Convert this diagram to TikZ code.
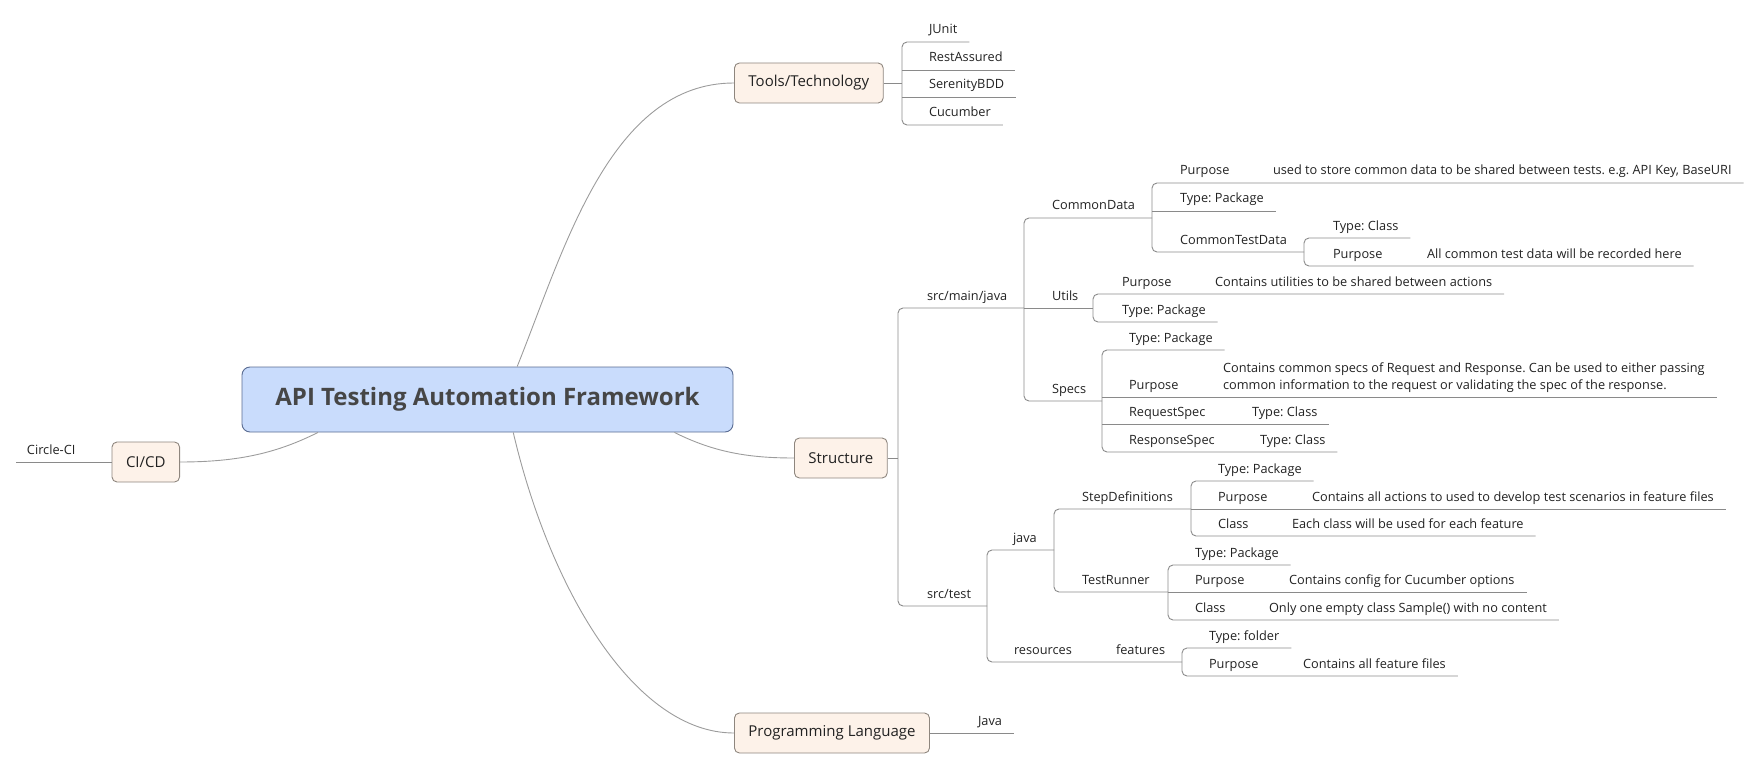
\documentclass[tikz,border=0pt]{standalone}
\usepackage{fontspec}
\setmainfont{Open Sans}
\usetikzlibrary{positioning}
\frenchspacing

\definecolor{rootfill}{HTML}{C9DCFC}
\definecolor{rootdraw}{HTML}{5A6C92}
\definecolor{roottext}{HTML}{464646}
\definecolor{mainfill}{HTML}{FDF2E9}
\definecolor{maindraw}{HTML}{8E867E}
\definecolor{linkgray}{HTML}{8A8A8A}
\definecolor{txt}{HTML}{222222}

\newcommand{\leaffont}{\fontsize{12.75}{17}\selectfont}

\begin{document}
\begin{tikzpicture}[
  x=1pt, y=-1pt,
  root/.style={rectangle, rounded corners=8pt, draw=rootdraw, fill=rootfill, line width=0.9pt, minimum width=491pt, minimum height=65pt, text=roottext, font=\fontsize{24}{28}\selectfont\bfseries},
  topic/.style={rectangle, rounded corners=5pt, draw=maindraw, fill=mainfill, line width=0.9pt, inner xsep=14pt, minimum height=40pt, text=txt, font=\fontsize{15}{18}\selectfont},
  leaf/.style={anchor=south west, inner sep=0pt, outer xsep=0pt, outer ysep=8pt, text height=8pt, text depth=0pt, text=txt, font=\leaffont},
  link/.style={draw=linkgray, line width=0.9pt},
  curve/.style={draw=linkgray!85, line width=0.9pt}
]
  \useasboundingbox (0,0) rectangle (1761,770);

  \node[root] (root) at (487.5,399.5) {API Testing Automation Framework};
  \node[topic, anchor=west] (tools) at (734,83) {Tools/Technology};
  \node[topic, anchor=west] (structure) at (794,458) {Structure};
  \node[topic, anchor=west] (prog) at (734,733) {Programming Language};
  \node[topic, anchor=east] (cicd) at (180,462) {CI/CD};

  \draw[curve] (root.48) .. controls +(47,-117) and +(-124,0) .. (tools.west);
  \draw[curve] (root.-52) .. controls +(37,158) and +(-99,0) .. (prog.west);
  \draw[curve] (root.-10.5) .. controls +(40,20) and +(-45,0) .. (structure.west);
  \draw[curve] (root.191.4) .. controls +(-40,20) and +(60,0) .. (cicd.east);

  % CI/CD
  \node[leaf] (circleci) at (27,462) {Circle-CI};
  \draw[link] (cicd.west) -- ([xshift=-11pt]circleci.south west);

  % Tools/Technology
  \coordinate (toolsbr) at (902,83);
  \node[leaf] (junit) at (929,42) {JUnit};
  \node[leaf] (restassured) at (929,70) {RestAssured};
  \node[leaf] (serenity) at (929,97) {SerenityBDD};
  \node[leaf] (cucumber) at (929,125) {Cucumber};
  \draw[link] (tools.east) -- (toolsbr);
  \draw[link, rounded corners=5pt] ([xshift=12pt]junit.south east) -- (junit.south west -| toolsbr) -- (cucumber.south west -| toolsbr) -- ([xshift=12pt]cucumber.south east);
  \draw[link] (restassured.south west -| toolsbr) -- ([xshift=12pt]restassured.south east);
  \draw[link] (serenity.south west -| toolsbr) -- ([xshift=12pt]serenity.south east);

  % Programming Language
  \node[leaf] (javalang) at (978,733) {Java};
  \draw[link] (prog.east) -- ([xshift=12pt]javalang.south east);

  % Structure
  \coordinate (structbr) at (898,458);
  \coordinate (mainbr) at (1024,308);
  \coordinate (testbr) at (987,606);
  \node[leaf] (srcmain) at (927,308) {src/main/java};
  \node[leaf] (srctest) at (927,606) {src/test};
  \draw[link] (structure.east) -- (structbr);
  \draw[link, rounded corners=5pt] (srcmain.south west -| mainbr) -- (srcmain.south west -| structbr) -- (srctest.south west -| structbr) -- (srctest.south west -| testbr);

  % src/main/java
  \coordinate (cdbr) at (1152,218);
  \coordinate (utilsbr) at (1093,308);
  \coordinate (specsbr) at (1102,401);
  \node[leaf] (commondata) at (1052,218) {CommonData};
  \node[leaf] (utils) at (1052,308) {Utils};
  \node[leaf] (specs) at (1052,401) {Specs};
  \draw[link, rounded corners=5pt] (commondata.south west -| cdbr) -- (commondata.south west -| mainbr) -- (specs.south west -| mainbr) -- (specs.south west -| specsbr);
  \draw[link] (utils.south west -| mainbr) -- (utils.south west -| utilsbr);

  % CommonData
  \coordinate (ctbr) at (1304,252);
  \node[leaf] (cdpurp) at (1180,183) {Purpose};
  \node[leaf] (cdpurpd) at (1273,183) {used to store common data to be shared between tests. e.g. API Key, BaseURI};
  \node[leaf] (cdtype) at (1180,211) {Type: Package};
  \node[leaf] (cdtest) at (1180,252) {CommonTestData};
  \draw[link, rounded corners=5pt] ([xshift=12pt]cdpurpd.south east) -- (cdpurp.south west -| cdbr) -- (cdtest.south west -| cdbr) -- (cdtest.south west -| ctbr);
  \draw[link] (cdtype.south west -| cdbr) -- ([xshift=12pt]cdtype.south east);

  \node[leaf] (ctclass) at (1333,238) {Type: Class};
  \node[leaf] (ctpurp) at (1333,266) {Purpose};
  \node[leaf] (ctpurpd) at (1427,266) {All common test data will be recorded here};
  \draw[link, rounded corners=5pt] ([xshift=12pt]ctclass.south east) -- (ctclass.south west -| ctbr) -- (ctpurp.south west -| ctbr) -- ([xshift=12pt]ctpurpd.south east);

  % Utils
  \node[leaf] (upurp) at (1122,294) {Purpose};
  \node[leaf] (upurpd) at (1215,294) {Contains utilities to be shared between actions};
  \node[leaf] (utype) at (1122,322) {Type: Package};
  \draw[link, rounded corners=5pt] ([xshift=12pt]upurpd.south east) -- (upurp.south west -| utilsbr) -- (utype.south west -| utilsbr) -- ([xshift=12pt]utype.south east);

  % Specs
  \node[leaf] (stype) at (1129,350) {Type: Package};
  \node[leaf] (spurp) at (1129,397) {Purpose};
  \node[leaf] (spurpd) at (1223,397) {\begin{tabular}[b]{@{}l@{}}Contains common specs of Request and Response. Can be used to either passing\\common information to the request or validating the spec of the response.\end{tabular}};
  \node[leaf] (sreq) at (1129,424) {RequestSpec};
  \node[leaf] (sreqd) at (1252,424) {Type: Class};
  \node[leaf] (sresp) at (1129,452) {ResponseSpec};
  \node[leaf] (srespd) at (1260,452) {Type: Class};
  \draw[link, rounded corners=5pt] ([xshift=12pt]stype.south east) -- (stype.south west -| specsbr) -- (sresp.south west -| specsbr) -- ([xshift=12pt]srespd.south east);
  \draw[link] (spurp.south west -| specsbr) -- ([xshift=12pt]spurpd.south east);
  \draw[link] (sreq.south west -| specsbr) -- ([xshift=12pt]sreqd.south east);

  % src/test
  \coordinate (javabr) at (1054,550);
  \coordinate (featbr) at (1182,662);
  \node[leaf] (java) at (1013,550) {java};
  \node[leaf] (resources) at (1014,662) {resources};
  \node[leaf] (features) at (1116,662) {features};
  \draw[link, rounded corners=5pt] (java.south west -| javabr) -- (java.south west -| testbr) -- (resources.south west -| testbr) -- (resources.south west -| featbr);

  % java
  \coordinate (stepbr) at (1191,509);
  \coordinate (runbr) at (1168,592);
  \node[leaf] (stepdef) at (1082,509) {StepDefinitions};
  \node[leaf] (runner) at (1082,592) {TestRunner};
  \draw[link, rounded corners=5pt] (stepdef.south west -| stepbr) -- (stepdef.south west -| javabr) -- (runner.south west -| javabr) -- (runner.south west -| runbr);

  \node[leaf] (sdtype) at (1218,481) {Type: Package};
  \node[leaf] (sdpurp) at (1218,509) {Purpose};
  \node[leaf] (sdpurpd) at (1312,509) {Contains all actions to used to develop test scenarios in feature files};
  \node[leaf] (sdclass) at (1218,536) {Class};
  \node[leaf] (sdclassd) at (1292,536) {Each class will be used for each feature};
  \draw[link, rounded corners=5pt] ([xshift=12pt]sdtype.south east) -- (sdtype.south west -| stepbr) -- (sdclass.south west -| stepbr) -- ([xshift=12pt]sdclassd.south east);
  \draw[link] (sdpurp.south west -| stepbr) -- ([xshift=12pt]sdpurpd.south east);

  \node[leaf] (trtype) at (1195,565) {Type: Package};
  \node[leaf] (trpurp) at (1195,592) {Purpose};
  \node[leaf] (trpurpd) at (1289,592) {Contains config for Cucumber options};
  \node[leaf] (trclass) at (1195,620) {Class};
  \node[leaf] (trclassd) at (1269,620) {Only one empty class Sample() with no content};
  \draw[link, rounded corners=5pt] ([xshift=12pt]trtype.south east) -- (trtype.south west -| runbr) -- (trclass.south west -| runbr) -- ([xshift=12pt]trclassd.south east);
  \draw[link] (trpurp.south west -| runbr) -- ([xshift=12pt]trpurpd.south east);

  % features
  \node[leaf] (ftype) at (1209,648) {Type: folder};
  \node[leaf] (fpurp) at (1209,676) {Purpose};
  \node[leaf] (fpurpd) at (1303,676) {Contains all feature files};
  \draw[link, rounded corners=5pt] ([xshift=12pt]ftype.south east) -- (ftype.south west -| featbr) -- (fpurp.south west -| featbr) -- ([xshift=12pt]fpurpd.south east);
\end{tikzpicture}
\end{document}
